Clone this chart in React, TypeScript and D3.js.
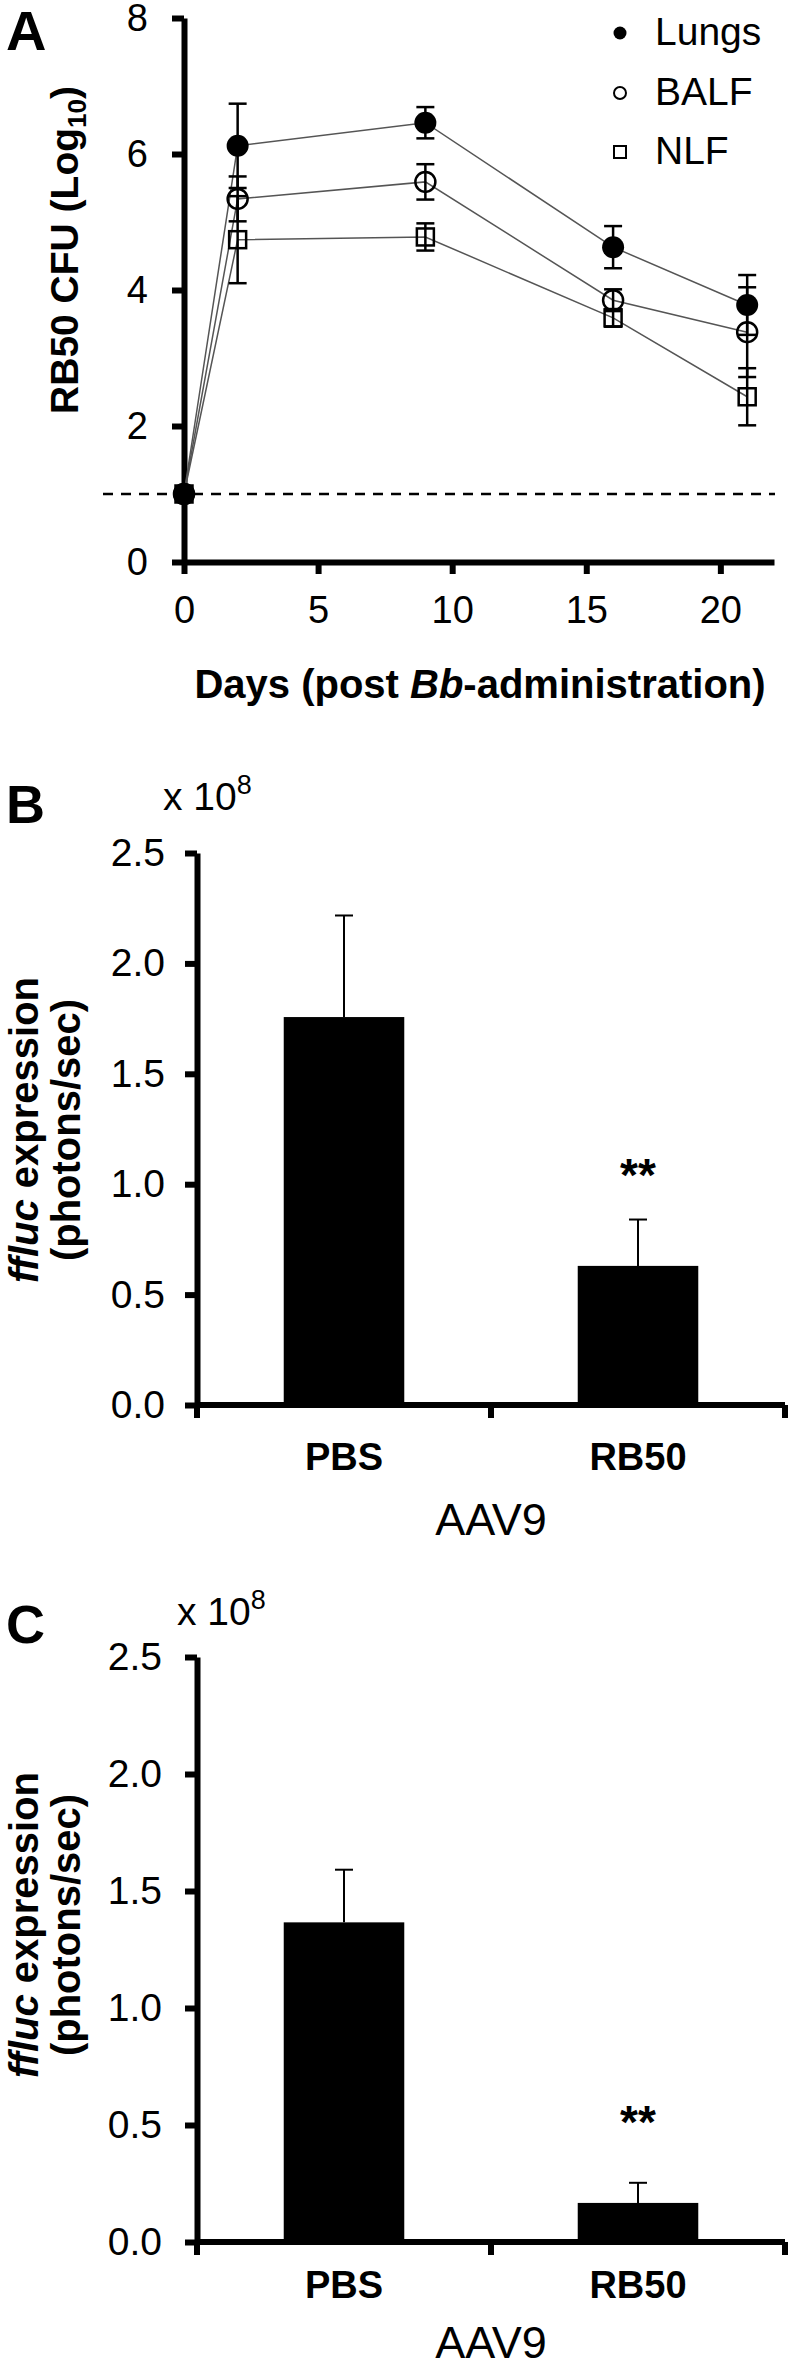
import React, { useEffect, useRef } from 'react';
import * as d3 from 'd3';

const FONT = '"Liberation Sans", Arial, Helvetica, sans-serif';

// Panel A: RB50 CFU over time
const days = [0, 2, 9, 16, 21];
const dayTicks = [0, 5, 10, 15, 20];
const cfuTicks = [0, 2, 4, 6, 8];
const lungs = [1, 6.12, 6.46, 4.63, 3.78];
const lungsErr = [0, 0.62, 0.23, 0.31, 0.44];
const balf = [1, 5.34, 5.59, 3.85, 3.38];
const balfErr = [0, 0.33, 0.26, 0.16, 0.66];
const nlf = [1, 4.74, 4.78, 3.59, 2.43];
const nlfErr = [0, 0.64, 0.2, 0.13, 0.42];
const seriesNames = ['Lungs', 'BALF', 'NLF'];
const detectionLimit = 1;

// Panels B and C: fluc expression
const groups = ['PBS', 'RB50'];
const exprTicks = [0, 0.5, 1, 1.5, 2, 2.5];
const exprB = [1.757, 0.63];
const exprErrB = [0.46, 0.21];
const exprC = [1.366, 0.167];
const exprErrC = [0.225, 0.086];

const AXIS_W = 6;

function styleAxis(g: any, width: number, fontSize: number) {
  g.attr('font-family', FONT).attr('font-size', fontSize);
  g.select('.domain').attr('stroke', '#000').attr('stroke-width', width);
  g.selectAll('.tick line').attr('stroke', '#000').attr('stroke-width', width);
  g.selectAll('.tick text').attr('fill', '#000');
}

function drawPanelA(svg: any) {
  const x = d3.scaleLinear().domain([0, 22]).range([184, 774]);
  const y = d3.scaleLinear().domain([0, 8]).range([562, 18]);
  const g = svg.append('g');

  // panel letter
  g.append('text')
    .attr('x', 6).attr('y', 50)
    .attr('font-family', FONT).attr('font-weight', 'bold').attr('font-size', 56)
    .text('A');

  // dashed detection limit
  g.append('line')
    .attr('x1', 103).attr('x2', 775)
    .attr('y1', y(detectionLimit)).attr('y2', y(detectionLimit))
    .attr('stroke', '#000').attr('stroke-width', 2.5)
    .attr('stroke-dasharray', '10,8');

  const yAxis = g.append('g')
    .attr('transform', `translate(${x(0)},0)`)
    .call(d3.axisLeft(y).tickValues(cfuTicks).tickSize(12).tickPadding(24).tickSizeOuter(0));
  styleAxis(yAxis, AXIS_W, 38);

  const xAxis = g.append('g')
    .attr('transform', `translate(0,${y(0)})`)
    .call(d3.axisBottom(x).tickValues(dayTicks).tickSize(12).tickPadding(22).tickSizeOuter(0));
  styleAxis(xAxis, AXIS_W, 38);

  // axis titles
  const yt = g.append('text')
    .attr('transform', 'translate(78,250) rotate(-90)')
    .attr('text-anchor', 'middle')
    .attr('font-family', FONT).attr('font-weight', 'bold').attr('font-size', 39);
  yt.append('tspan').text('RB50 CFU (Log');
  yt.append('tspan').attr('font-size', 26).attr('dy', 8).text('10');
  yt.append('tspan').attr('dy', -8).text(')');

  const xt = g.append('text')
    .attr('x', 480).attr('y', 698)
    .attr('text-anchor', 'middle')
    .attr('font-family', FONT).attr('font-weight', 'bold').attr('font-size', 40);
  xt.append('tspan').text('Days (post ');
  xt.append('tspan').attr('font-style', 'italic').text('Bb');
  xt.append('tspan').text('-administration)');

  const series = [
    { name: seriesNames[0], values: lungs, errs: lungsErr },
    { name: seriesNames[1], values: balf, errs: balfErr },
    { name: seriesNames[2], values: nlf, errs: nlfErr },
  ];

  const line = d3.line<number>()
    .x((_: number, i: number) => x(days[i]))
    .y((d: number) => y(d));

  series.forEach((s) => {
    g.append('path')
      .datum(s.values)
      .attr('fill', 'none')
      .attr('stroke', '#555')
      .attr('stroke-width', 1.5)
      .attr('d', line);
  });

  const drawMarker = (sel: any, name: string, cx: number, cy: number, size: number) => {
    if (name === 'Lungs') {
      sel.append('circle').attr('cx', cx).attr('cy', cy).attr('r', size).attr('fill', '#000');
    } else if (name === 'BALF') {
      sel.append('circle').attr('cx', cx).attr('cy', cy).attr('r', size)
        .attr('fill', 'none').attr('stroke', '#000').attr('stroke-width', 2.5);
    } else {
      sel.append('rect')
        .attr('x', cx - size * 0.85).attr('y', cy - size * 0.85)
        .attr('width', size * 1.7).attr('height', size * 1.7)
        .attr('fill', 'none').attr('stroke', '#000').attr('stroke-width', 2.5);
    }
  };

  // markers (NLF first so Lungs sits on top)
  [...series].reverse().forEach((s) => {
    s.values.forEach((v, i) => {
      drawMarker(g, s.name, x(days[i]), y(v), s.name === 'Lungs' ? 11 : 10);
    });
  });

  // error bars
  series.forEach((s) => {
    s.values.forEach((v, i) => {
      const e = s.errs[i];
      if (!e) return;
      const cx = x(days[i]);
      g.append('line')
        .attr('x1', cx).attr('x2', cx)
        .attr('y1', y(v - e)).attr('y2', y(v + e))
        .attr('stroke', '#000').attr('stroke-width', 2.5);
      [v - e, v + e].forEach((end) => {
        g.append('line')
          .attr('x1', cx - 9).attr('x2', cx + 9)
          .attr('y1', y(end)).attr('y2', y(end))
          .attr('stroke', '#000').attr('stroke-width', 2.5);
      });
    });
  });

  // legend
  const legendY = [33, 93, 152];
  series.forEach((s, i) => {
    const lg = g.append('g');
    if (s.name === 'Lungs') {
      lg.append('circle').attr('cx', 620).attr('cy', legendY[i]).attr('r', 6.5).attr('fill', '#000');
    } else if (s.name === 'BALF') {
      lg.append('circle').attr('cx', 620).attr('cy', legendY[i]).attr('r', 6)
        .attr('fill', 'none').attr('stroke', '#000').attr('stroke-width', 2);
    } else {
      lg.append('rect').attr('x', 614).attr('y', legendY[i] - 6).attr('width', 12).attr('height', 12)
        .attr('fill', 'none').attr('stroke', '#000').attr('stroke-width', 2);
    }
    lg.append('text')
      .attr('x', 655).attr('y', legendY[i] + 12)
      .attr('font-family', FONT).attr('font-size', 39)
      .text(s.name);
  });
}

interface BarPanelOpts {
  letter: string;
  letterY: number;
  values: number[];
  errs: number[];
  yBottom: number;
  yTop: number;
  tickPadding: number;
  expX: number;
  expY: number;
  titleY: number;
  catOffset: number;
  groupOffset: number;
  starY: number;
}

function drawBarPanel(svg: any, o: BarPanelOpts) {
  const x = d3.scaleBand<string>().domain(groups).range([197, 785]);
  const y = d3.scaleLinear().domain([0, 2.5]).range([o.yBottom, o.yTop]);
  const g = svg.append('g');

  g.append('text')
    .attr('x', 6).attr('y', o.letterY)
    .attr('font-family', FONT).attr('font-weight', 'bold').attr('font-size', 54)
    .text(o.letter);

  // multiplier
  const ex = g.append('text')
    .attr('x', o.expX).attr('y', o.expY)
    .attr('font-family', FONT).attr('font-size', 39);
  ex.append('tspan').text('x 10');
  ex.append('tspan').attr('font-size', 27).attr('dy', -16).text('8');

  // bars
  const bw = x.bandwidth() * 0.41;
  groups.forEach((grp, i) => {
    const cx = (x(grp) as number) + x.bandwidth() / 2;
    const v = o.values[i];
    const e = o.errs[i];
    g.append('rect')
      .attr('x', cx - bw / 2).attr('y', y(v))
      .attr('width', bw).attr('height', y(0) - y(v))
      .attr('fill', '#000');
    g.append('line')
      .attr('x1', cx).attr('x2', cx).attr('y1', y(v)).attr('y2', y(v + e))
      .attr('stroke', '#000').attr('stroke-width', 2);
    g.append('line')
      .attr('x1', cx - 9).attr('x2', cx + 9).attr('y1', y(v + e)).attr('y2', y(v + e))
      .attr('stroke', '#000').attr('stroke-width', 2);
    g.append('text')
      .attr('x', cx).attr('y', y(0) + o.catOffset)
      .attr('text-anchor', 'middle')
      .attr('font-family', FONT).attr('font-weight', 'bold').attr('font-size', 38)
      .text(grp);
  });

  // significance
  const rbCx = (x('RB50') as number) + x.bandwidth() / 2;
  g.append('text')
    .attr('x', rbCx).attr('y', o.starY)
    .attr('text-anchor', 'middle')
    .attr('font-family', FONT).attr('font-weight', 'bold').attr('font-size', 46)
    .text('**');

  const yAxis = g.append('g')
    .attr('transform', `translate(197,0)`)
    .call(d3.axisLeft(y).tickValues(exprTicks).tickFormat(d3.format('.1f')).tickSize(12)
      .tickPadding(o.tickPadding).tickSizeOuter(0));
  styleAxis(yAxis, AXIS_W, 39);

  // category axis with ticks at band edges
  const edges = [197, x('RB50') as number, 785];
  g.append('line')
    .attr('x1', 197).attr('x2', 785).attr('y1', y(0)).attr('y2', y(0))
    .attr('stroke', '#000').attr('stroke-width', AXIS_W);
  edges.forEach((ex2) => {
    g.append('line')
      .attr('x1', ex2).attr('x2', ex2).attr('y1', y(0)).attr('y2', y(0) + 13)
      .attr('stroke', '#000').attr('stroke-width', AXIS_W);
  });

  g.append('text')
    .attr('x', 491).attr('y', y(0) + o.groupOffset)
    .attr('text-anchor', 'middle')
    .attr('font-family', FONT).attr('font-size', 45)
    .text('AAV9');

  // two-line y title
  const t1 = g.append('text')
    .attr('transform', `translate(38,${o.titleY}) rotate(-90)`)
    .attr('text-anchor', 'middle')
    .attr('font-family', FONT).attr('font-weight', 'bold').attr('font-size', 40);
  t1.append('tspan').attr('font-style', 'italic').text('ffluc');
  t1.append('tspan').text(' expression');
  g.append('text')
    .attr('transform', `translate(80,${o.titleY}) rotate(-90)`)
    .attr('text-anchor', 'middle')
    .attr('font-family', FONT).attr('font-weight', 'bold').attr('font-size', 40)
    .text('(photons/sec)');
}

export default function App() {
  const svgRef = useRef<SVGSVGElement>(null);

  useEffect(() => {
    if (!svgRef.current) return;
    const svg = d3.select(svgRef.current);
    svg.selectAll('*').remove();

    drawPanelA(svg);
    drawBarPanel(svg, {
      letter: 'B', letterY: 823, values: exprB, errs: exprErrB,
      yBottom: 1405, yTop: 853, tickPadding: 20, expX: 163, expY: 810,
      titleY: 1130, catOffset: 65, groupOffset: 130, starY: 1191,
    });
    drawBarPanel(svg, {
      letter: 'C', letterY: 1643, values: exprC, errs: exprErrC,
      yBottom: 2242, yTop: 1657, tickPadding: 23, expX: 177, expY: 1625,
      titleY: 1925, catOffset: 56, groupOffset: 116, starY: 2138,
    });
  }, []);

  return (
    <svg
      ref={svgRef}
      width={792}
      height={2361}
      style={{ position: 'absolute', left: 0, top: 0, background: '#fff' }}
    />
  );
}
